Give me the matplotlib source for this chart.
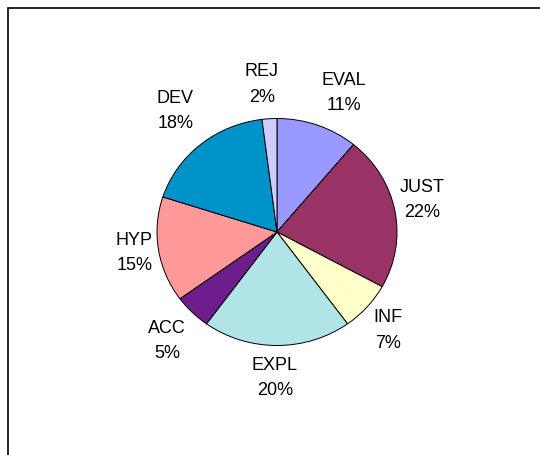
import matplotlib.pyplot as plt
import matplotlib.patches as mpatches
import numpy as np

plt.rcParams['font.family'] = ['Liberation Sans', 'DejaVu Sans']

# data (clockwise from 12 o'clock)
categories = ['EVAL', 'JUST', 'INF', 'EXPL', 'ACC', 'HYP', 'DEV', 'REJ']
shares = [11, 22, 7, 20, 5, 15, 18, 2]
colors = ['#9999FF', '#993366', '#FFFFCC', '#B0E4E6',
          '#6E1E8C', '#FF9999', '#0093C9', '#CCCCFF']
# label placement: distance (pie radii) and angle nudge (deg)
label_dist = [1.37, 1.25, 1.25, 1.26, 1.31, 1.20, 1.38, 1.33]
label_shift = [-4.3, 3.5, -1.0, -0.8, 0.5, -1.4, -1.7, 1.8]

fig = plt.figure(figsize=(5.4, 4.55), dpi=100)

# chart frame (only top and left edges visible in the crop)
fig.add_artist(mpatches.Rectangle((8 / 540, -0.1), 1.2, 1.1 - 8 / 455,
                                  transform=fig.transFigure, fill=False,
                                  edgecolor='black', linewidth=1.2))

ax = fig.add_axes([157 / 540, 109.5 / 455, 240 / 540, 227 / 455])
wedges, _ = ax.pie(shares, colors=colors, startangle=90, counterclock=False,
                   radius=1, wedgeprops=dict(edgecolor='black', linewidth=0.7))
ax.set_aspect('auto')
ax.set_xlim(-1, 1)
ax.set_ylim(-1, 1)
ax.axis('off')

for w, name, pct, k, d in zip(wedges, categories, shares, label_dist, label_shift):
    mid = np.deg2rad((w.theta1 + w.theta2) / 2 + d)
    ax.text(k * np.cos(mid), k * np.sin(mid) - 0.025, f'{name}\n{pct}%',
            ha='center', va='center', multialignment='center',
            fontsize=13, linespacing=1.65, clip_on=False)

plt.savefig('out.png', dpi=100)
